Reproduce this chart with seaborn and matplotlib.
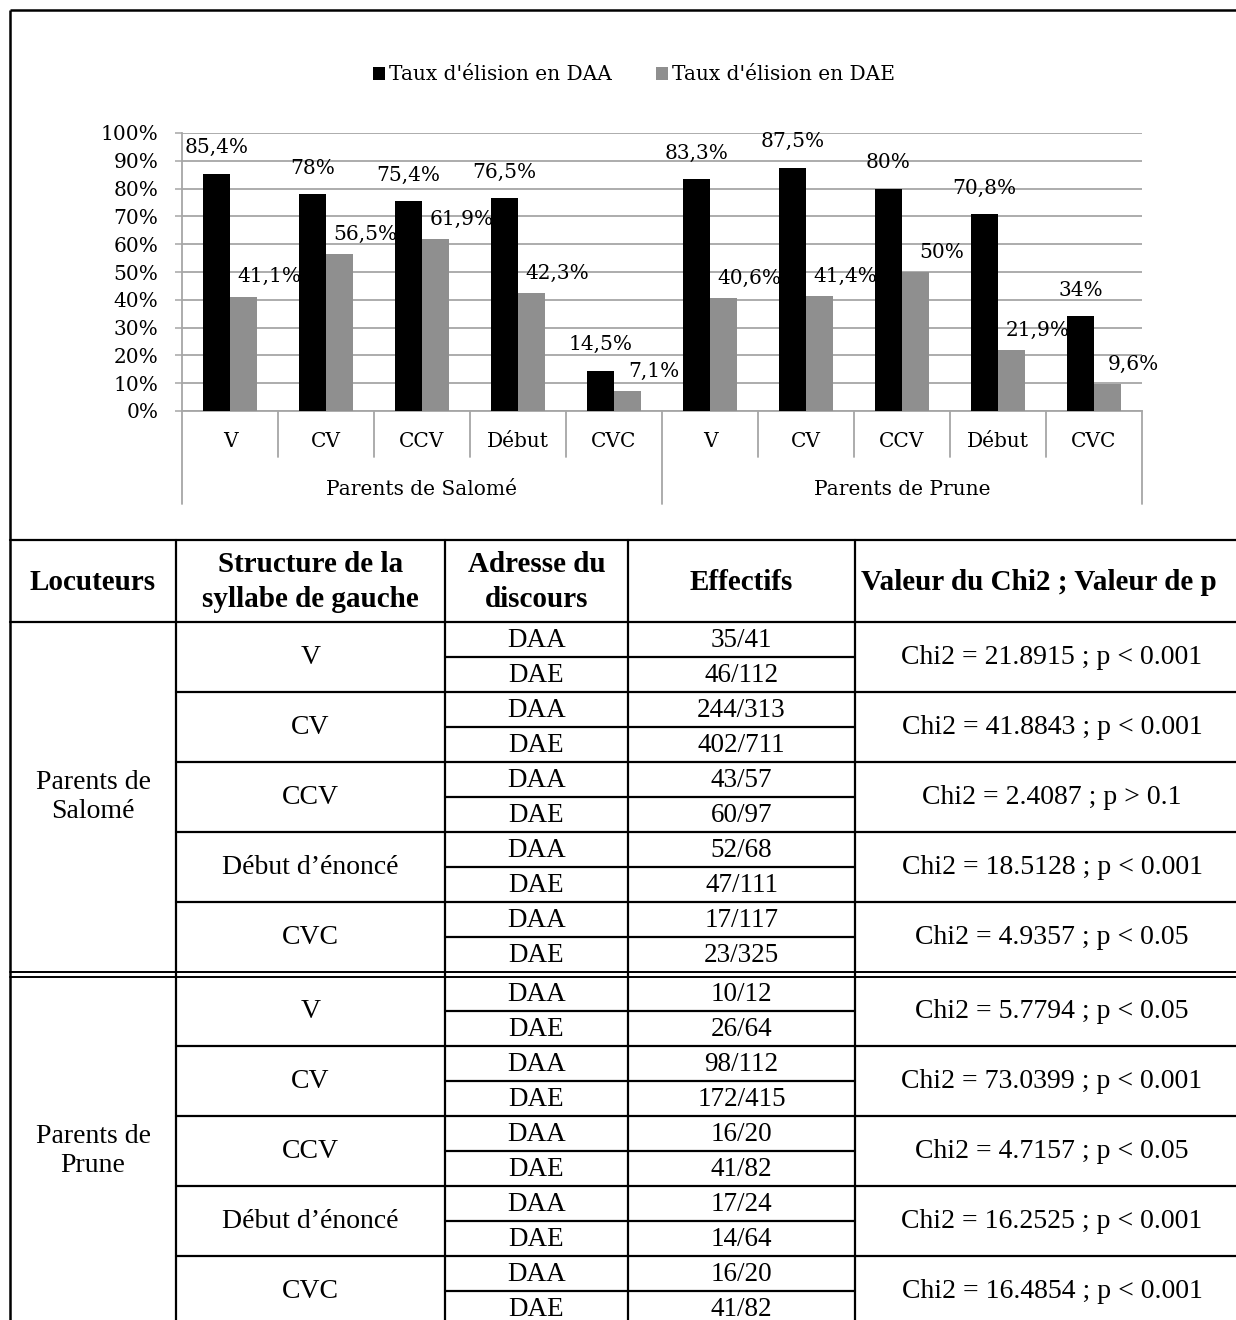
import numpy as np
import pandas as pd
import matplotlib
matplotlib.use("Agg")
import matplotlib.pyplot as plt
import matplotlib.transforms as mtransforms
import seaborn as sns

# ---------------- data ----------------
groups = ["Parents de Salomé", "Parents de Prune"]
structures = ["V", "CV", "CCV", "Début", "CVC"]
series = ["Taux d'élision en DAA", "Taux d'élision en DAE"]
daa = [85.4, 78, 75.4, 76.5, 14.5, 83.3, 87.5, 80, 70.8, 34]
dae = [41.1, 56.5, 61.9, 42.3, 7.1, 40.6, 41.4, 50, 21.9, 9.6]
y_ticks = [0, 10, 20, 30, 40, 50, 60, 70, 80, 90, 100]

headers = ["Locuteurs", "Structure de la\nsyllabe de gauche", "Adresse du\ndiscours",
           "Effectifs", "Valeur du Chi2 ; Valeur de p"]
locuteurs = ["Parents de\nSalomé", "Parents de\nPrune"]
table_structures = ["V", "CV", "CCV", "Début d’énoncé", "CVC"]
adresses = ["DAA", "DAE"]
effectifs_salome = ["35/41", "46/112", "244/313", "402/711", "43/57", "60/97",
                    "52/68", "47/111", "17/117", "23/325"]
effectifs_prune = ["10/12", "26/64", "98/112", "172/415", "16/20", "41/82",
                   "17/24", "14/64", "16/20", "41/82"]
chi2_salome = ["Chi2 = 21.8915 ; p < 0.001", "Chi2 = 41.8843 ; p < 0.001",
               "Chi2 = 2.4087 ; p > 0.1", "Chi2 = 18.5128 ; p < 0.001",
               "Chi2 = 4.9357 ; p < 0.05"]
chi2_prune = ["Chi2 = 5.7794 ; p < 0.05", "Chi2 = 73.0399 ; p < 0.001",
              "Chi2 = 4.7157 ; p < 0.05", "Chi2 = 16.2525 ; p < 0.001",
              "Chi2 = 16.4854 ; p < 0.001"]

# ---------------- theme ----------------
sns.set_theme(style="white")
plt.rcParams["font.family"] = ["DejaVu Serif"]
plt.rcParams["text.color"] = "black"
plt.rcParams["xtick.labelcolor"] = "black"
plt.rcParams["ytick.labelcolor"] = "black"
CHART_FONT = "DejaVu Serif"
TABLE_FONT = "Liberation Serif"
GRID = "#a6a6a6"
CFS = 14.5   # chart font size
TFS = 20     # table font size

W, H = 1236, 1320
fig = plt.figure(figsize=(W / 100, H / 100), dpi=100)
fig.patch.set_facecolor("white")

# overlay axes in pixel coordinates for frame and table
ov = fig.add_axes([0, 0, 1, 1], zorder=0)
ov.set_xlim(0, W)
ov.set_ylim(H, 0)
ov.set_axis_off()

# ---------------- bar chart ----------------
left, right, top, bottom = 182, 1142, 133, 411
ax = fig.add_axes([left / W, 1 - bottom / H, (right - left) / W, (bottom - top) / H], zorder=2)
ax.set_facecolor("none")

rows = []
for gi, g in enumerate(groups):
    for si, s in enumerate(structures):
        k = gi * len(structures) + si
        key = f"{g}|{s}"
        rows.append({"key": key, "series": series[0], "value": daa[k]})
        rows.append({"key": key, "series": series[1], "value": dae[k]})
df = pd.DataFrame(rows)
order = list(dict.fromkeys(df["key"]))

sns.barplot(data=df, x="key", y="value", hue="series", order=order, hue_order=series,
            palette=["#000000", "#8f8f8f"], width=0.5625, saturation=1,
            edgecolor="none", linewidth=0, ax=ax, zorder=3)
handles, labels = ax.get_legend_handles_labels()
if ax.get_legend() is not None:
    ax.get_legend().remove()

ax.set_xlim(-0.5, len(order) - 0.5)
ax.set_ylim(0, 100)
ax.set_yticks(y_ticks)
ax.set_yticklabels([f"{t}%" for t in y_ticks], fontsize=CFS, family=CHART_FONT)
ax.yaxis.grid(True, color=GRID, linewidth=1.3, zorder=0)
ax.set_axisbelow(True)
ax.tick_params(axis="y", length=5, width=1.1, color=GRID, pad=12, direction="out", left=True)
ax.set_xticks(range(len(order)))
ax.set_xticklabels(structures * len(groups), fontsize=CFS, family=CHART_FONT)
ax.tick_params(axis="x", length=0, pad=15)
ax.set_xlabel("")
ax.set_ylabel("")
for sp in ["top", "right"]:
    ax.spines[sp].set_visible(False)
for sp in ["left", "bottom"]:
    ax.spines[sp].set_color(GRID)
    ax.spines[sp].set_linewidth(1.3)

# category dividers under the axis
trans = mtransforms.blended_transform_factory(ax.transData, ax.transAxes)
ph = bottom - top
for i in range(len(order) + 1):
    is_group = i % len(structures) == 0
    depth = (93 if is_group else 46) / ph
    ax.plot([i - 0.5, i - 0.5], [0, -depth], transform=trans, color=GRID,
            linewidth=1.3, clip_on=False, zorder=1)
for gi, g in enumerate(groups):
    cx = gi * len(structures) + (len(structures) - 1) / 2
    ax.text(cx, -79 / ph, g, transform=trans, ha="center", va="center",
            fontsize=CFS, family=CHART_FONT)

# data labels
def fmt(v):
    return f"{v:g}".replace(".", ",") + "%"

offsets = [(0, 26), (26, 20)]
for ci, cont in enumerate(ax.containers):
    dx, dy = offsets[ci]
    for bar in cont:
        v = bar.get_height()
        ax.annotate(fmt(v), (bar.get_x() + bar.get_width() / 2, v),
                    xytext=(dx, dy), textcoords="offset pixels",
                    ha="center", va="center", fontsize=CFS, family=CHART_FONT,
                    annotation_clip=False, zorder=5)

fig.legend(handles, labels, loc="center", bbox_to_anchor=(634 / W, 1 - 75 / H),
           ncol=2, frameon=False, handlelength=0.6, handleheight=0.6,
           handletextpad=0.2, columnspacing=2.2,
           prop={"family": CHART_FONT, "size": CFS})

# ---------------- frame ----------------
LW = 1.6
ov.plot([10, W + 5], [10, 10], color="black", lw=1.8, solid_capstyle="butt")
ov.plot([10, 10], [10, H + 5], color="black", lw=1.8, solid_capstyle="butt")

# ---------------- table ----------------
col_x = [10, 176, 445, 628, 855, W + 5]
table_top, header_bottom, row_h = 540, 622, 35
group_tops = [622, 976]

ov.plot([10, W + 5], [table_top, table_top], color="black", lw=LW)
ov.plot([10, W + 5], [header_bottom, header_bottom], color="black", lw=LW)
for x in col_x[1:5]:
    ov.plot([x, x], [table_top, H + 5], color="black", lw=LW)

hdr_cx = [(col_x[i] + col_x[i + 1]) / 2 for i in range(4)]
hdr_cy = (table_top + header_bottom) / 2
for i in range(4):
    ov.text(hdr_cx[i], hdr_cy + 1, headers[i], ha="center", va="center",
            fontsize=TFS + 1, fontweight="bold", family=TABLE_FONT, linespacing=1.35)
ov.text(861, hdr_cy + 1, headers[4], ha="left", va="center",
        fontsize=TFS + 1, fontweight="bold", family=TABLE_FONT)

eff_all = [effectifs_salome, effectifs_prune]
chi_all = [chi2_salome, chi2_prune]
for gi, gt in enumerate(group_tops):
    nrows = len(table_structures) * 2
    gb = gt + nrows * row_h
    ov.text(hdr_cx[0], (gt + gb) / 2, locuteurs[gi], ha="center", va="center",
            fontsize=TFS, family=TABLE_FONT, linespacing=1.25)
    for si, s in enumerate(table_structures):
        st = gt + si * row_h * 2
        if si > 0:
            ov.plot([col_x[1], W + 5], [st, st], color="black", lw=LW)
        ov.plot([col_x[2], col_x[4]], [st + row_h, st + row_h], color="black", lw=LW)
        ov.text(hdr_cx[1], st + row_h + 1, s, ha="center", va="center",
                fontsize=TFS, family=TABLE_FONT)
        ov.text(1052, st + row_h + 1, chi_all[gi][si], ha="center", va="center",
                fontsize=TFS, family=TABLE_FONT)
        for ai, a in enumerate(adresses):
            cy = st + ai * row_h + row_h / 2 + 1
            ov.text(hdr_cx[2], cy, a, ha="center", va="center",
                    fontsize=TFS - 0.5, family=TABLE_FONT)
            ov.text(hdr_cx[3], cy, eff_all[gi][si * 2 + ai], ha="center", va="center",
                    fontsize=TFS - 0.5, family=TABLE_FONT)

# double separator between the two speaker groups
ov.plot([10, W + 5], [972, 972], color="black", lw=1.4)
ov.plot([10, W + 5], [976.5, 976.5], color="black", lw=1.4)

fig.savefig("out.png", dpi=100, facecolor="white")
